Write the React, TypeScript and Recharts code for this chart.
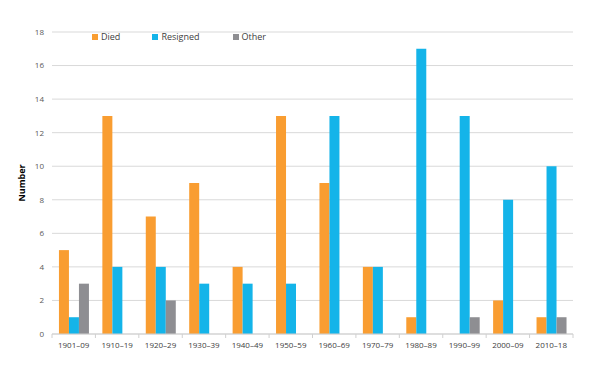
import { Bar, BarChart, CartesianGrid, Legend, XAxis, YAxis } from "recharts";

const decades = [
  "1901–09", "1910–19", "1920–29", "1930–39", "1940–49", "1950–59",
  "1960–69", "1970–79", "1980–89", "1990–99", "2000–09", "2010–18",
];
const died = [5, 13, 7, 9, 4, 13, 9, 4, 1, 0, 2, 1];
const resigned = [1, 4, 4, 3, 3, 3, 13, 4, 17, 13, 8, 10];
const other = [3, 0, 2, 0, 0, 0, 0, 0, 0, 1, 0, 1];
const yTicks = [0, 2, 4, 6, 8, 10, 12, 14, 16, 18];

const data = decades.map((decade, i) => ({
  decade,
  Died: died[i],
  Resigned: resigned[i],
  Other: other[i],
}));

const COLORS = { Died: "#F99D31", Resigned: "#14B4E9", Other: "#8E8E92" };
const FONT = "'Open Sans', sans-serif";
const PLOT_LEFT = 52;
const PLOT_RIGHT = 573;

function XTick(props: any) {
  const { x, y, payload, index } = props;
  const band = (PLOT_RIGHT - PLOT_LEFT) / decades.length;
  const axisY = y - 8;
  return (
    <g>
      <line x1={x - band / 2} x2={x - band / 2} y1={axisY} y2={axisY + 4} stroke="#d0d0d0" />
      {index === decades.length - 1 && (
        <line x1={x + band / 2} x2={x + band / 2} y1={axisY} y2={axisY + 4} stroke="#d0d0d0" />
      )}
      <text x={x} y={y} dy="0.71em" textAnchor="middle" fill="#404040" fontSize={8} fontFamily={FONT}>
        {payload.value}
      </text>
    </g>
  );
}

function LegendContent() {
  const items = ["Died", "Resigned", "Other"] as const;
  return (
    <div style={{ display: "flex", fontFamily: FONT, fontSize: 9, color: "#404040" }}>
      {items.map((k) => (
        <div key={k} style={{ display: "flex", alignItems: "center", marginRight: k === "Died" ? 32 : 33 }}>
          <span style={{ width: 6, height: 6, background: COLORS[k], marginRight: 3, display: "inline-block" }} />
          {k}
        </div>
      ))}
    </div>
  );
}

export default function App() {
  return (
    <div style={{ position: "absolute", left: 0, top: 0, width: 600, height: 379, background: "#fff" }}>
      <BarChart
        width={600}
        height={379}
        data={data}
        margin={{ top: 19, right: 600 - PLOT_RIGHT, left: 7, bottom: 24 }}
        barCategoryGap="16%"
        barGap={0}
      >
        <CartesianGrid stroke="#d9d9d9" vertical={false} />
        <XAxis
          dataKey="decade"
          tick={<XTick />}
          tickLine={false}
          axisLine={{ stroke: "#d0d0d0" }}
          interval={0}
          height={21}
        />
        <YAxis
          width={45}
          domain={[0, 18]}
          ticks={yTicks}
          axisLine={false}
          tickLine={false}
          tick={{ fill: "#595959", fontSize: 8, fontFamily: FONT }}
          label={{
            value: "Number",
            angle: -90,
            position: "insideLeft",
            offset: 15,
            style: { fontFamily: FONT, fontSize: 9, fontWeight: "bold", fill: "#000", textAnchor: "middle" },
          }}
        />
        <Legend
          verticalAlign="top"
          align="left"
          content={<LegendContent />}
          wrapperStyle={{ top: 30, left: 92, width: 300 }}
        />
        <Bar dataKey="Died" fill={COLORS.Died} isAnimationActive={false} />
        <Bar dataKey="Resigned" fill={COLORS.Resigned} isAnimationActive={false} />
        <Bar dataKey="Other" fill={COLORS.Other} isAnimationActive={false} />
      </BarChart>
    </div>
  );
}
